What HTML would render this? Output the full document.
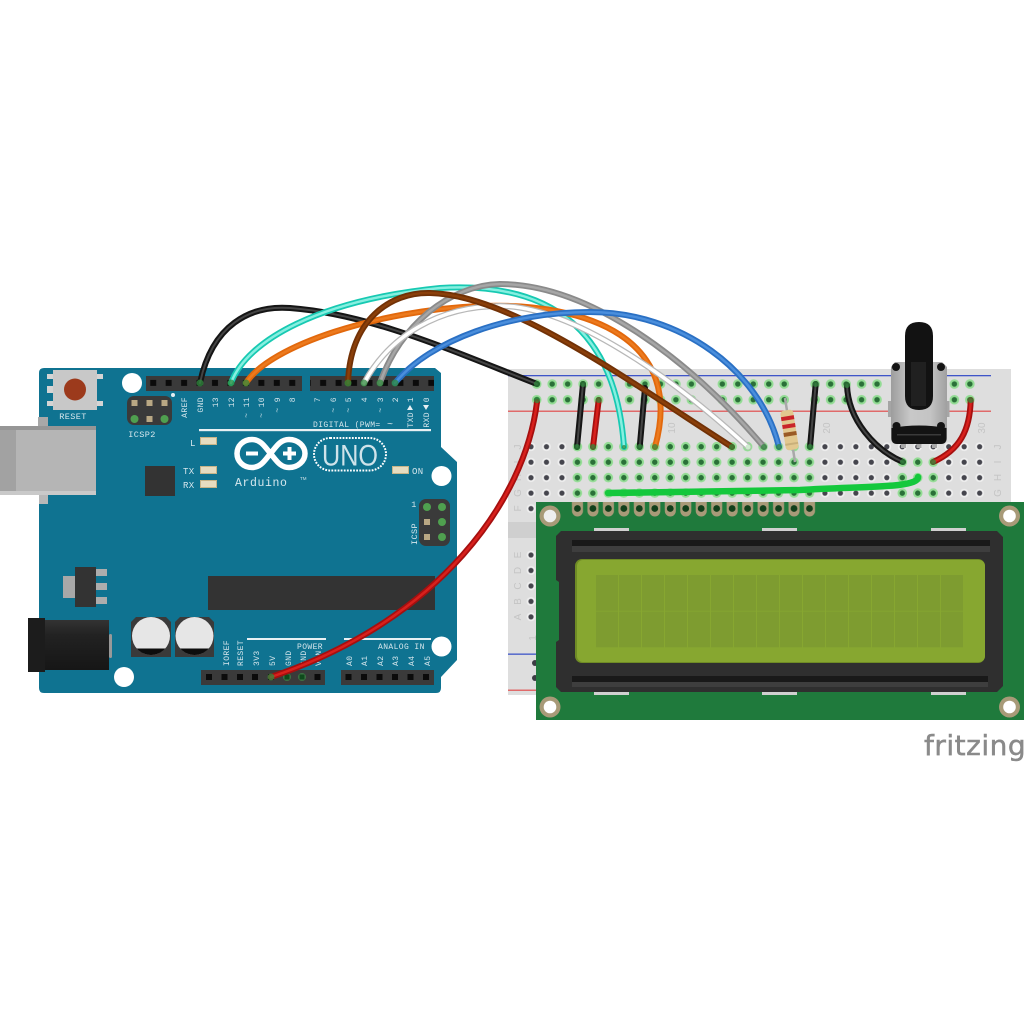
<!DOCTYPE html>
<html>
<head>
<meta charset="utf-8">
<style>
html,body{margin:0;padding:0;background:#fff}
svg{display:block}
.m{font-family:"Liberation Mono",monospace;font-size:8px;fill:#d5e6ec;letter-spacing:.4px}
.b{font-family:"Liberation Sans",sans-serif;font-size:10px;fill:#c4c4c4}
.w{fill:none;stroke-linecap:round}
</style>
</head>
<body>
<svg width="1024" height="1024" viewBox="0 0 1024 1024" xmlns="http://www.w3.org/2000/svg">
<defs>
<pattern id="pins" patternUnits="userSpaceOnUse" x="145.3" y="376" width="15.45" height="15"><rect x="4.9" y="3.9" width="6" height="6" fill="#0b0b0b"/></pattern>
<pattern id="hg" patternUnits="userSpaceOnUse" x="523.27" y="438.97" width="15.47" height="15.47"><circle cx="7.73" cy="7.73" r="4.8" fill="#93dc94"/><circle cx="7.73" cy="7.73" r="2.7" fill="#2a7038"/></pattern>
<pattern id="hd" patternUnits="userSpaceOnUse" x="523.27" y="438.97" width="15.47" height="15.47"><circle cx="7.73" cy="7.73" r="4.4" fill="#efefef"/><circle cx="7.73" cy="7.73" r="2.6" fill="#45454d"/></pattern>
<pattern id="hr" patternUnits="userSpaceOnUse" x="528.97" y="376.3" width="15.47" height="15.7"><circle cx="7.73" cy="7.73" r="4.8" fill="#93dc94"/><circle cx="7.73" cy="7.73" r="2.7" fill="#2a7038"/></pattern>
<pattern id="cells" patternUnits="userSpaceOnUse" x="596" y="575" width="23" height="36.5"><rect width="22" height="35.8" fill="#7e9c30"/></pattern>
<pattern id="pad" patternUnits="userSpaceOnUse" x="569.7" y="500" width="15.47" height="20"><path d="M2.2 2H13.3V11a5.5 5.5 0 0 1-11 0Z" fill="#a89a78"/><circle cx="7.73" cy="8.5" r="3.4" fill="#123f1b"/></pattern>
<linearGradient id="pot" x1="0" x2="1" y1="0" y2="0"><stop offset="0" stop-color="#9d9d9d"/><stop offset=".35" stop-color="#c8c8c8"/><stop offset=".7" stop-color="#c4c4c4"/><stop offset="1" stop-color="#a0a0a0"/></linearGradient>
<linearGradient id="jack" x1="0" x2="0" y1="0" y2="1"><stop offset="0" stop-color="#333"/><stop offset=".3" stop-color="#222"/><stop offset="1" stop-color="#161616"/></linearGradient>
</defs>

<!-- Arduino -->
<path d="M44 368H435L441 373V447L457 462V660L441 677V688Q441 693 436 693H44Q39 693 39 688V373Q39 368 44 368Z" fill="#0f7391"/>
<!-- reset -->
<g fill="#d4d4d4"><rect x="47" y="374" width="7" height="5"/><rect x="47" y="386" width="7" height="7"/><rect x="47" y="401" width="7" height="5"/><rect x="96" y="374" width="7" height="5"/><rect x="96" y="401" width="7" height="5"/></g>
<rect x="53" y="370" width="44" height="40" fill="#c8c8c8"/>
<circle cx="75" cy="389.5" r="11" fill="#9c3a1c"/>
<text class="m" x="73" y="419" text-anchor="middle" style="font-size:8.5px">RESET</text>
<circle cx="132" cy="383" r="10" fill="#fff"/>
<circle cx="124" cy="677" r="10" fill="#fff"/>
<circle cx="441.5" cy="476" r="10" fill="#fff"/>
<circle cx="441.5" cy="646.5" r="10" fill="#fff"/>
<!-- USB -->
<rect x="38" y="417" width="10" height="10" fill="#a8a8a8"/>
<rect x="39" y="495" width="9" height="9" fill="#b8b8b8"/>
<rect x="0" y="426" width="96" height="69" fill="#b5b5b5"/>
<rect x="0" y="426" width="16" height="69" fill="#a2a2a2"/>
<rect x="0" y="426" width="96" height="4" fill="#969696"/>
<rect x="0" y="491" width="96" height="4" fill="#c9c9c9"/>
<!-- headers -->
<rect x="146" y="376" width="156" height="15" fill="#3a3a3a"/>
<rect x="310" y="376" width="124" height="15" fill="#3a3a3a"/>
<rect x="146" y="376" width="156" height="15" fill="url(#pins)"/>
<rect x="310" y="376" width="124" height="15" fill="url(#pins)"/>
<rect x="201" y="670" width="124" height="15" fill="#3a3a3a"/>
<rect x="341" y="670" width="93" height="15" fill="#3a3a3a"/>
<g fill="#0b0b0b">
<rect x="206" y="674" width="6" height="6"/><rect x="221.5" y="674" width="6" height="6"/><rect x="237" y="674" width="6" height="6"/><rect x="252" y="674" width="6" height="6"/><rect x="268" y="674" width="6" height="6"/><rect x="314.5" y="674" width="6" height="6"/>
<rect x="345.5" y="674" width="6" height="6"/><rect x="361" y="674" width="6" height="6"/><rect x="376.5" y="674" width="6" height="6"/><rect x="392" y="674" width="6" height="6"/><rect x="407.5" y="674" width="6" height="6"/><rect x="423" y="674" width="6" height="6"/>
</g>
<circle cx="287" cy="677" r="4" fill="#3f9a4a" opacity=".6"/>
<circle cx="302" cy="677" r="4" fill="#3f9a4a" opacity=".6"/>
<rect x="284.500" y="674.500" width="5" height="5" fill="#0e4a1c"/>
<rect x="299.500" y="674.500" width="5" height="5" fill="#0e4a1c"/>
<!-- ICSP2 -->
<rect x="127" y="396" width="45" height="29" rx="7" fill="#3a3a3a"/>
<g fill="#b9a884"><rect x="131.500" y="400" width="6" height="6"/><rect x="146.500" y="400" width="6" height="6"/><rect x="161.500" y="400" width="6" height="6"/><rect x="146.500" y="416" width="6" height="6"/></g>
<circle cx="134.500" cy="419" r="4" fill="#4fa04f"/><circle cx="164.500" cy="419" r="4" fill="#4fa04f"/>
<circle cx="173" cy="395" r="2" fill="#e5eef2"/>
<text class="m" x="142" y="437" text-anchor="middle" style="font-size:8.500px">ICSP2</text>
<!-- top labels -->
<g class="m" text-anchor="end">
<text transform="translate(187,397) rotate(-90)">AREF</text>
<text transform="translate(203,397) rotate(-90)">GND</text>
<text transform="translate(218,397) rotate(-90)">13</text>
<text transform="translate(234,397) rotate(-90)">12</text>
<text transform="translate(249,397) rotate(-90)">~ 11</text>
<text transform="translate(264,397) rotate(-90)">~ 10</text>
<text transform="translate(280,397) rotate(-90)">~ 9</text>
<text transform="translate(295,397) rotate(-90)">8</text>
<text transform="translate(320,397) rotate(-90)">7</text>
<text transform="translate(336,397) rotate(-90)">~ 6</text>
<text transform="translate(351,397) rotate(-90)">~ 5</text>
<text transform="translate(367,397) rotate(-90)">4</text>
<text transform="translate(383,397) rotate(-90)">~ 3</text>
<text transform="translate(398,397) rotate(-90)">2</text>
<text transform="translate(413,397) rotate(-90)">1</text>
<text transform="translate(413,412) rotate(-90)">TXD</text>
<text transform="translate(429,397) rotate(-90)">0</text>
<text transform="translate(429,412) rotate(-90)">RXD</text>
</g>
<polygon points="407,410 413,410 410,405" fill="#e6f0f3"/>
<polygon points="423,405 429,405 426,410" fill="#e6f0f3"/>
<text class="m" x="313" y="427">DIGITAL (PWM=</text>
<text class="m" x="387" y="427" style="font-size:10px">~</text>
<rect x="199" y="429" width="232" height="2.200" fill="#e8f0f3"/>
<!-- LEDs -->
<g fill="#e6dcc0" stroke="#c7b488" stroke-width="1"><rect x="200.500" y="437.500" width="16" height="7"/><rect x="200.500" y="466.500" width="16" height="7"/><rect x="200.500" y="480.500" width="16" height="7"/><rect x="392.500" y="466.500" width="16" height="7"/></g>
<g class="m" style="font-size:9px"><text x="190" y="446">L</text><text x="183" y="474">TX</text><text x="183" y="488">RX</text><text x="412" y="474">ON</text></g>
<rect x="145" y="466" width="30" height="30" fill="#333"/>
<!-- logo -->
<path d="M252 439.500C243 439.500 237 446 237 453.500C237 461 243 467.500 252 467.500C261 467.500 265 460 270.500 453.500C276 447 280 439.500 289 439.500C298 439.500 305 446 305 453.500C305 461 298 467.500 289 467.500C280 467.500 276 460 270.500 453.500C265 447 261 439.500 252 439.500Z" fill="none" stroke="#fff" stroke-width="5.500"/>
<rect x="246" y="451.500" width="12" height="4" fill="#fff"/>
<rect x="283" y="451.500" width="13" height="4" fill="#fff"/><rect x="287.500" y="447" width="4" height="13" fill="#fff"/>
<text x="235" y="486" style="font-family:'Liberation Mono',monospace;font-size:11.500px;letter-spacing:.6px" fill="#d8e8ee">Arduino</text>
<text x="300" y="480" style="font-family:'Liberation Sans',sans-serif;font-size:4.500px" fill="#cfe0e6">TM</text>
<rect x="314" y="438" width="72" height="32.500" rx="16.200" fill="none" stroke="#fff" stroke-width="2" stroke-dasharray="1.800 1.300"/>
<text x="350" y="465.500" text-anchor="middle" style="font-family:'Liberation Sans',sans-serif;font-size:30px" textLength="56" lengthAdjust="spacingAndGlyphs" fill="#cfe3ea">UNO</text>
<!-- ICSP -->
<rect x="419" y="499" width="31" height="47" rx="7" fill="#3a3a3a"/>
<circle cx="427" cy="507" r="4" fill="#4fa04f"/><circle cx="442" cy="507" r="4" fill="#4fa04f"/><circle cx="442" cy="522" r="4" fill="#4fa04f"/><circle cx="442" cy="537" r="4" fill="#4fa04f"/>
<rect x="424" y="519" width="6" height="6" fill="#b9a884"/><rect x="424" y="534" width="6" height="6" fill="#b9a884"/>
<g class="m" text-anchor="middle" style="font-size:8.500px"><text x="414" y="507">1</text><text transform="translate(417,534) rotate(-90)">ICSP</text></g>
<!-- regulator -->
<rect x="63" y="576" width="13" height="22" fill="#a8a8a8"/>
<g fill="#adadad"><rect x="96" y="569" width="11" height="7"/><rect x="96" y="583" width="11" height="7"/><rect x="96" y="597" width="11" height="7"/></g>
<rect x="75" y="567" width="21" height="40" fill="#333"/>
<!-- jack -->
<rect x="109" y="634" width="3" height="24" rx="1.500" fill="#999"/>
<rect x="45" y="620" width="64" height="50" fill="url(#jack)"/>
<rect x="28" y="618" width="17" height="54" fill="#1c1c1c"/>
<!-- caps -->
<path d="M136 617H166L171 622V657H131V622Z" fill="#3a3a3a"/>
<path d="M180 617H209L214 622V657H175V622Z" fill="#3a3a3a"/>
<circle cx="151" cy="636" r="19" fill="#e6e6e6"/>
<circle cx="194.500" cy="636" r="19" fill="#e6e6e6"/>
<path d="M136.700 648.500H165.300A19 19 0 0 1 136.700 648.500Z" fill="#0d0d0d"/>
<path d="M180.200 648.500H208.800A19 19 0 0 1 180.200 648.500Z" fill="#0d0d0d"/>
<!-- chip -->
<rect x="208" y="576" width="227" height="34" fill="#333"/>
<rect x="247" y="638" width="79" height="2" fill="#e8f0f3"/>
<rect x="344" y="638" width="87" height="2" fill="#e8f0f3"/>
<text class="m" x="297" y="649">POWER</text>
<text class="m" x="378" y="649">ANALOG IN</text>
<g class="m">
<text transform="translate(229,666) rotate(-90)">IOREF</text>
<text transform="translate(243,666) rotate(-90)">RESET</text>
<text transform="translate(259,666) rotate(-90)">3V3</text>
<text transform="translate(275,666) rotate(-90)">5V</text>
<text transform="translate(291,666) rotate(-90)">GND</text>
<text transform="translate(306,666) rotate(-90)">GND</text>
<text transform="translate(321,666) rotate(-90)">VIN</text>
<text transform="translate(352,666) rotate(-90)">A0</text>
<text transform="translate(367,666) rotate(-90)">A1</text>
<text transform="translate(383,666) rotate(-90)">A2</text>
<text transform="translate(398,666) rotate(-90)">A3</text>
<text transform="translate(414,666) rotate(-90)">A4</text>
<text transform="translate(430,666) rotate(-90)">A5</text>
</g>

<!-- Breadboard -->
<rect x="508" y="369" width="503" height="326" fill="#dedede"/>
<rect x="508" y="522" width="503" height="16" fill="#cfcfcf"/>
<rect x="508" y="375" width="483" height="1.300" fill="#3f55c8"/>
<rect x="508" y="410.500" width="483" height="1.500" fill="#e06a6a"/>
<rect x="508" y="653.500" width="40" height="1.300" fill="#3f55c8"/>
<rect x="508" y="689.500" width="40" height="1.500" fill="#e06a6a"/>
<!-- rails -->
<g fill="url(#hr)">
<rect x="528.970" y="376.300" width="77.350" height="31.400"/>
<rect x="621.790" y="376.300" width="77.350" height="31.400"/>
<rect x="714.610" y="376.300" width="77.350" height="31.400"/>
<rect x="807.430" y="376.300" width="77.350" height="31.400"/>
<rect x="900.250" y="376.300" width="77.350" height="31.400"/>
</g>
<!-- rows -->
<rect x="523.270" y="438.970" width="464.100" height="77.350" fill="url(#hd)"/>
<rect x="523.270" y="547.260" width="15.470" height="77.350" fill="url(#hd)"/>
<rect x="569.680" y="438.970" width="247.520" height="61.880" fill="url(#hg)"/>
<rect x="894.550" y="454.440" width="46.410" height="46.410" fill="url(#hg)"/>
<circle cx="535" cy="663" r="3" fill="#3c3c44"/><circle cx="535" cy="678" r="3" fill="#3c3c44"/>
<g class="b">
<text transform="translate(521,447) rotate(-90)" text-anchor="middle">J</text>
<text transform="translate(521,462) rotate(-90)" text-anchor="middle">I</text>
<text transform="translate(521,477.500) rotate(-90)" text-anchor="middle">H</text>
<text transform="translate(521,493) rotate(-90)" text-anchor="middle">G</text>
<text transform="translate(521,508.500) rotate(-90)" text-anchor="middle">F</text>
<text transform="translate(521,555) rotate(-90)" text-anchor="middle">E</text>
<text transform="translate(521,570.500) rotate(-90)" text-anchor="middle">D</text>
<text transform="translate(521,586) rotate(-90)" text-anchor="middle">C</text>
<text transform="translate(521,601.500) rotate(-90)" text-anchor="middle">B</text>
<text transform="translate(521,617) rotate(-90)" text-anchor="middle">A</text>
<text transform="translate(536,638) rotate(-90)" text-anchor="middle">1</text>
<text transform="translate(675,428) rotate(-90)" text-anchor="middle">10</text>
<text transform="translate(830,428) rotate(-90)" text-anchor="middle">20</text>
<text transform="translate(985,428) rotate(-90)" text-anchor="middle">30</text>
<text transform="translate(1001,447) rotate(-90)" text-anchor="middle">J</text>
<text transform="translate(1001,462) rotate(-90)" text-anchor="middle">I</text>
<text transform="translate(1001,477.500) rotate(-90)" text-anchor="middle">H</text>
<text transform="translate(1001,493) rotate(-90)" text-anchor="middle">G</text>
</g>

<!-- resistor -->
<path d="M785 398L795 462" stroke="#a8a8a8" stroke-width="2.500" fill="none"/>
<g transform="translate(789.500,430) rotate(-9)">
<rect x="-6.500" y="-20" width="13" height="40" rx="3.500" fill="#e2c88f"/>
<rect x="-6.500" y="-14" width="13" height="4" fill="#c9252a"/>
<rect x="-6.500" y="-6" width="13" height="4" fill="#c9252a"/>
<rect x="-6.500" y="2" width="13" height="4" fill="#9a5a25"/>
<rect x="-6.500" y="13" width="13" height="2" fill="#c9b07a"/>
</g>

<!-- pot -->
<rect x="888" y="401" width="3.500" height="16" fill="#a5a5a5"/>
<rect x="946" y="401" width="3.500" height="16" fill="#a5a5a5"/>
<g fill="#a8a8a8"><rect x="901" y="442" width="5" height="6"/><rect x="916.500" y="442" width="5" height="6"/><rect x="932" y="442" width="5" height="6"/></g>
<path d="M895 362H942L947 367V438Q947 444 941 444H897Q891 444 891 438V367Z" fill="url(#pot)"/>
<path d="M891.500 428Q919 423 946.500 428V438Q946.500 444 941 444H897Q891.500 444 891.500 438Z" fill="#131313"/>
<rect x="897" y="434" width="44" height="1.500" fill="#3a3a3a"/>
<g fill="#141414"><circle cx="896" cy="367" r="4"/><circle cx="941" cy="367" r="4"/><circle cx="896.500" cy="426" r="4"/><circle cx="941" cy="426" r="4"/></g>
<path d="M905 336Q905 322 919 322Q933 322 933 336V396Q933 410 919 410Q905 410 905 396Z" fill="#121212"/>
<rect x="911" y="362" width="15" height="44" fill="#202020"/>

<!-- jumpers -->
<g class="w">
<path d="M583 384L577 447" stroke="#151515" stroke-width="6"/><path d="M583 384L577 447" stroke="#444" stroke-width="2"/>
<path d="M598.700 400L593 447" stroke="#a50f0f" stroke-width="6"/><path d="M598.700 400L593 447" stroke="#d8201c" stroke-width="2.500"/>
<path d="M645 388L639.700 447" stroke="#151515" stroke-width="6"/><path d="M645 388L639.700 447" stroke="#444" stroke-width="2"/>
<path d="M815.700 384L810 447" stroke="#151515" stroke-width="6"/><path d="M815.700 384L810 447" stroke="#444" stroke-width="2"/>
<path d="M847 385C848 420 875 450 903 462" stroke="#151515" stroke-width="6"/><path d="M847 385C848 420 875 450 903 462" stroke="#444" stroke-width="2"/>
<path d="M970.700 400C970 430 960 450 933 462" stroke="#a50f0f" stroke-width="6"/><path d="M970.700 400C970 430 960 450 933 462" stroke="#d8201c" stroke-width="2.500"/>
<path d="M608 493L800 490C870 486 918 488 918 477" stroke="#14c83c" stroke-width="6.500"/>
</g>

<!-- long wires -->
<g class="w">
<path d="M200 383C212 325 250 305 290 308C370 314 450 350 537 384" stroke="#151515" stroke-width="6"/>
<path d="M200 383C212 325 250 305 290 308C370 314 450 350 537 384" stroke="#444" stroke-width="2"/>
<path d="M231 383C247 340 320 300 440 288C540 282 615 320 624 447" stroke="#17c9b2" stroke-width="6"/>
<path d="M231 383C247 340 320 300 440 288C540 282 615 320 624 447" stroke="#86efe0" stroke-width="2.500"/>
<path d="M246 383C270 345 380 310 480 306C590 302 685 340 655 447" stroke="#e2680c" stroke-width="6"/>
<path d="M246 383C270 345 380 310 480 306C590 302 685 340 655 447" stroke="#ec7a1e" stroke-width="2.500"/>
<path d="M380 383C400 325 450 285 500 284C590 284 690 360 764 447" stroke="#8a8a8a" stroke-width="6"/>
<path d="M380 383C400 325 450 285 500 284C590 284 690 360 764 447" stroke="#a6a6a6" stroke-width="2.500"/>
<path d="M364 383C390 335 440 306 500 306C570 306 670 375 748 447" stroke="#b8b8b8" stroke-width="6"/>
<path d="M364 383C390 335 440 306 500 306C570 306 670 375 748 447" stroke="#fff" stroke-width="3.500"/>
<path d="M348 383C350 320 390 292 430 293C510 295 620 375 732 447" stroke="#713106" stroke-width="6"/>
<path d="M348 383C350 320 390 292 430 293C510 295 620 375 732 447" stroke="#8a3f0a" stroke-width="2.500"/>
<path d="M395 383C430 340 510 312 590 312C680 312 760 370 779 447" stroke="#2a70c4" stroke-width="6"/>
<path d="M395 383C430 340 510 312 590 312C680 312 760 370 779 447" stroke="#4a8edc" stroke-width="2.500"/>
<path d="M537 402C525 500 440 620 271 677" stroke="#a50f0f" stroke-width="6"/>
<path d="M537 402C525 500 440 620 271 677" stroke="#d8201c" stroke-width="2.500"/>
</g>
<!-- wire end points -->
<g fill="#2f8a3c" fill-opacity=".75">
<circle cx="200" cy="383" r="3.500"/><circle cx="231" cy="383" r="3.500"/><circle cx="246" cy="383" r="3.500"/><circle cx="348" cy="383" r="3.500"/><circle cx="364" cy="383" r="3.500"/><circle cx="380" cy="383" r="3.500"/><circle cx="395" cy="383" r="3.500"/><circle cx="271" cy="677" r="3.500"/>
<circle cx="537" cy="384" r="3.200"/><circle cx="537" cy="400" r="3.200"/>
<circle cx="583" cy="384" r="3"/><circle cx="577" cy="447" r="3"/><circle cx="598.700" cy="400" r="3"/><circle cx="593" cy="447" r="3"/><circle cx="639.700" cy="447" r="3"/><circle cx="815.700" cy="384" r="3"/><circle cx="810" cy="447" r="3"/><circle cx="847" cy="385" r="3"/><circle cx="903" cy="462" r="3"/><circle cx="970.700" cy="400" r="3"/><circle cx="933" cy="462" r="3"/>
<circle cx="624" cy="447" r="2"/><circle cx="655" cy="447" r="3"/><circle cx="732" cy="447" r="3"/><circle cx="764" cy="447" r="3"/><circle cx="779" cy="447" r="3"/>
</g>
<circle cx="748" cy="447" r="2.500" fill="#cfeccf"/>

<!-- LCD -->
<rect x="536" y="502" width="488" height="218" fill="#1f7a3c"/>
<rect x="569.700" y="502" width="247.520" height="20" fill="url(#pad)"/>
<g fill="#a89a78"><circle cx="550" cy="516" r="10.500"/><circle cx="550" cy="707" r="10.500"/><circle cx="1009.500" cy="516" r="10.500"/><circle cx="1009.500" cy="707" r="10.500"/></g>
<circle cx="550" cy="516" r="6.300" fill="#eee"/><circle cx="550" cy="707" r="6.300" fill="#fff"/><circle cx="1009.500" cy="516" r="6.300" fill="#fff"/><circle cx="1009.500" cy="707" r="6.300" fill="#fff"/>
<g fill="#d0d0d0">
<rect x="594" y="528" width="35" height="3"/><rect x="762" y="528" width="35" height="3"/><rect x="931" y="528" width="35" height="3"/>
<rect x="594" y="692" width="35" height="3"/><rect x="762" y="692" width="35" height="3"/><rect x="931" y="692" width="35" height="3"/>
</g>
<path d="M561 531H997L1003 537V686L997 692H561L556 687V642L559 640V582L556 580V536Z" fill="#2f2f2f"/>
<rect x="572" y="540" width="418" height="6" fill="#191919"/>
<rect x="572" y="546" width="418" height="6" fill="#3e3e3e"/>
<rect x="572" y="676" width="416" height="6" fill="#191919"/>
<rect x="572" y="682" width="416" height="5" fill="#3e3e3e"/>
<rect x="575" y="559" width="410" height="104" rx="7" fill="#6f8b25"/>
<rect x="577" y="560" width="408" height="102" rx="6" fill="#87a730"/>
<rect x="596" y="575" width="368" height="73" fill="url(#cells)"/>

<!-- fritzing -->
<text x="924" y="755" style="font-family:'DejaVu Sans',sans-serif;font-size:28px;letter-spacing:.5px;stroke:#8a8a8a;stroke-width:.5" fill="#8a8a8a">fritzing</text>
</svg>
</body>
</html>
